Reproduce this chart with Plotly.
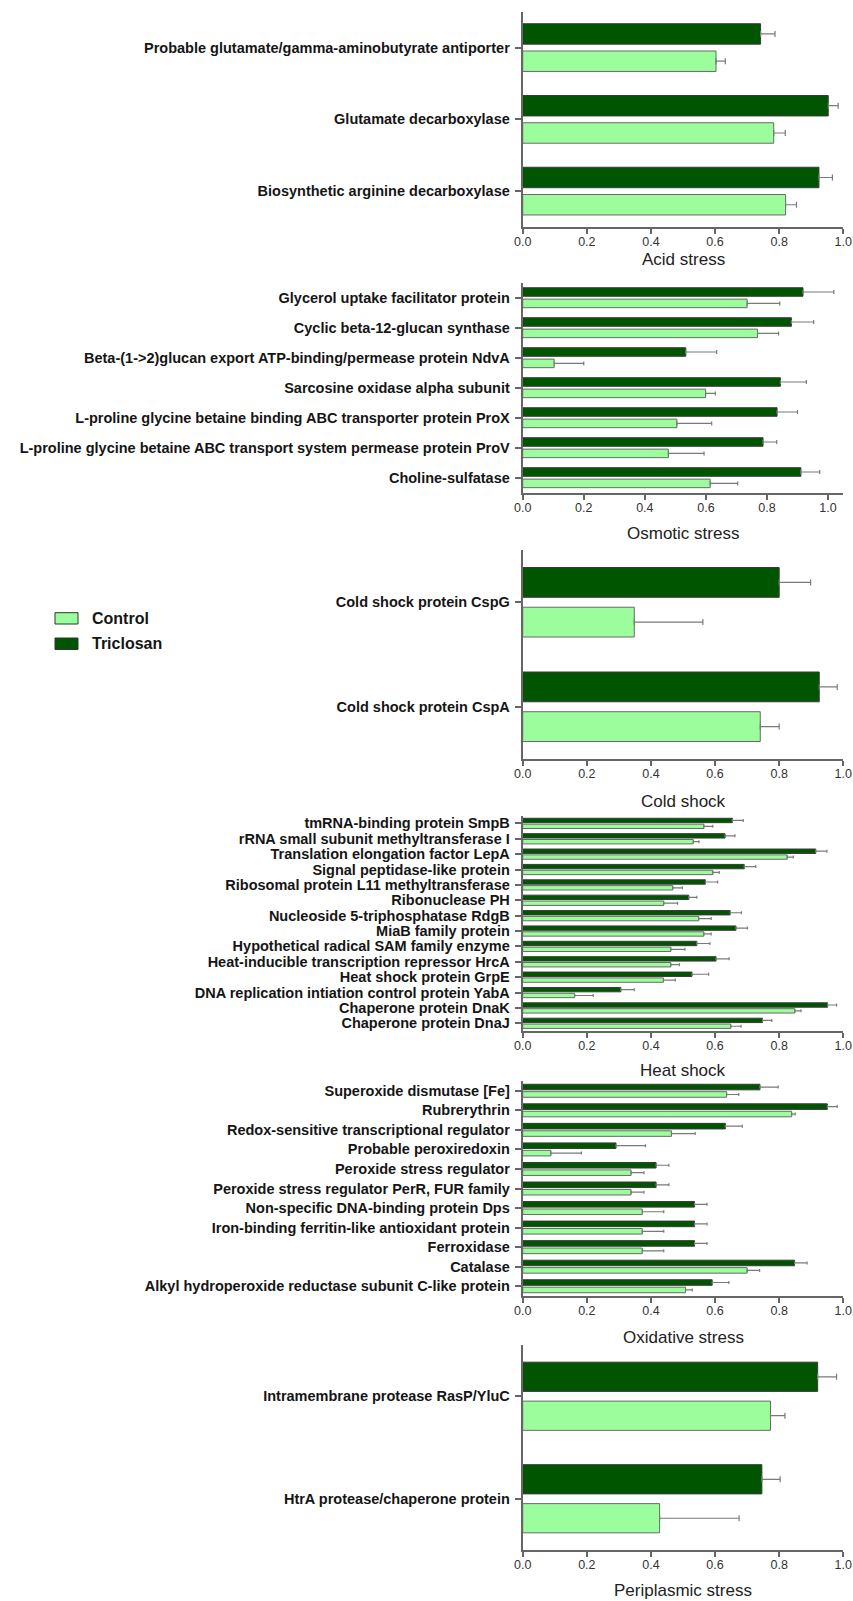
import plotly.graph_objects as go

# ---- data: proteins per stress category (top to bottom), Triclosan and Control ----
acid_labels = [
    "Probable glutamate/gamma-aminobutyrate antiporter",
    "Glutamate decarboxylase",
    "Biosynthetic arginine decarboxylase",
]
acid_triclosan = [0.742, 0.953, 0.924]
acid_triclosan_err = [0.045, 0.031, 0.042]
acid_control = [0.603, 0.783, 0.820]
acid_control_err = [0.029, 0.036, 0.034]

osmotic_labels = [
    "Glycerol uptake facilitator protein",
    "Cyclic beta-12-glucan synthase",
    "Beta-(1->2)glucan export ATP-binding/permease protein NdvA",
    "Sarcosine oxidase alpha subunit",
    "L-proline glycine betaine binding ABC transporter protein ProX",
    "L-proline glycine betaine ABC transport system permease protein ProV",
    "Choline-sulfatase",
]
osmotic_triclosan = [0.918, 0.880, 0.534, 0.844, 0.833, 0.787, 0.911]
osmotic_triclosan_err = [0.101, 0.073, 0.101, 0.085, 0.067, 0.045, 0.062]
osmotic_control = [0.735, 0.769, 0.103, 0.599, 0.505, 0.477, 0.614]
osmotic_control_err = [0.107, 0.069, 0.097, 0.032, 0.114, 0.117, 0.090]

cold_labels = ["Cold shock protein CspG", "Cold shock protein CspA"]
cold_triclosan = [0.800, 0.925]
cold_triclosan_err = [0.098, 0.056]
cold_control = [0.348, 0.741]
cold_control_err = [0.214, 0.059]

heat_labels = [
    "tmRNA-binding protein SmpB",
    "rRNA small subunit methyltransferase I",
    "Translation elongation factor LepA",
    "Signal peptidase-like protein",
    "Ribosomal protein L11 methyltransferase",
    "Ribonuclease PH",
    "Nucleoside 5-triphosphatase RdgB",
    "MiaB family protein",
    "Hypothetical radical SAM family enzyme",
    "Heat-inducible transcription repressor HrcA",
    "Heat shock protein GrpE",
    "DNA replication intiation control protein YabA",
    "Chaperone protein DnaK",
    "Chaperone protein DnaJ",
]
heat_triclosan = [0.654, 0.631, 0.914, 0.691, 0.570, 0.518, 0.647,
                  0.665, 0.543, 0.603, 0.528, 0.306, 0.951, 0.748]
heat_triclosan_err = [0.034, 0.031, 0.035, 0.036, 0.038, 0.025, 0.035,
                      0.036, 0.041, 0.041, 0.052, 0.042, 0.028, 0.029]
heat_control = [0.565, 0.532, 0.825, 0.593, 0.468, 0.440, 0.549,
                0.565, 0.462, 0.462, 0.439, 0.162, 0.849, 0.649]
heat_control_err = [0.028, 0.018, 0.019, 0.020, 0.030, 0.043, 0.039,
                    0.023, 0.044, 0.027, 0.037, 0.058, 0.019, 0.032]

oxidative_labels = [
    "Superoxide dismutase [Fe]",
    "Rubrerythrin",
    "Redox-sensitive transcriptional regulator",
    "Probable peroxiredoxin",
    "Peroxide stress regulator",
    "Peroxide stress regulator PerR, FUR family",
    "Non-specific DNA-binding protein Dps",
    "Iron-binding ferritin-like antioxidant protein",
    "Ferroxidase",
    "Catalase",
    "Alkyl hydroperoxide reductase subunit C-like protein",
]
oxidative_triclosan = [0.740, 0.950, 0.632, 0.291, 0.416, 0.416,
                       0.536, 0.536, 0.536, 0.848, 0.591]
oxidative_triclosan_err = [0.057, 0.031, 0.053, 0.092, 0.040, 0.040,
                           0.039, 0.039, 0.039, 0.039, 0.052]
oxidative_control = [0.636, 0.839, 0.464, 0.088, 0.338, 0.338,
                     0.373, 0.373, 0.373, 0.700, 0.508]
oxidative_control_err = [0.038, 0.011, 0.074, 0.095, 0.040, 0.040,
                         0.067, 0.067, 0.067, 0.039, 0.021]

periplasmic_labels = ["Intramembrane protease RasP/YluC", "HtrA protease/chaperone protein"]
periplasmic_triclosan = [0.920, 0.746]
periplasmic_triclosan_err = [0.059, 0.057]
periplasmic_control = [0.773, 0.427]
periplasmic_control_err = [0.045, 0.248]

x_tick_values = [0.0, 0.2, 0.4, 0.6, 0.8, 1.0]
series_names = ["Control", "Triclosan"]

# ---- page geometry (pixels) ----
W, H = 853, 1601
PLOT_X0, PLOT_X1 = 522.7, 843.3

CONTROL_COLOR = "#9cfd9c"
TRICLOSAN_COLOR = "#005600"
AXIS_COLOR = "#666666"
FONT = "Liberation Sans"

panels = [
    # title, labels, triclosan, t_err, control, c_err, top px, bottom px, x max, title y px, cap
    ("Acid stress", acid_labels, acid_triclosan, acid_triclosan_err,
     acid_control, acid_control_err, 11.7, 227, 1.0, 259, 3),
    ("Osmotic stress", osmotic_labels, osmotic_triclosan, osmotic_triclosan_err,
     osmotic_control, osmotic_control_err, 282.7, 492.7, 1.05, 533, 2),
    ("Cold shock", cold_labels, cold_triclosan, cold_triclosan_err,
     cold_control, cold_control_err, 550, 759, 1.0, 801.7, 3),
    ("Heat shock", heat_labels, heat_triclosan, heat_triclosan_err,
     heat_control, heat_control_err, 815.7, 1031, 1.0, 1070, 1.5),
    ("Oxidative stress", oxidative_labels, oxidative_triclosan, oxidative_triclosan_err,
     oxidative_control, oxidative_control_err, 1081, 1296, 1.0, 1337, 1.5),
    ("Periplasmic stress", periplasmic_labels, periplasmic_triclosan, periplasmic_triclosan_err,
     periplasmic_control, periplasmic_control_err, 1345, 1550, 1.0, 1590, 3),
]


def py(p):
    """pixel row -> paper y"""
    return 1 - p / H


def px(p):
    """pixel column -> paper x"""
    return p / W


fig = go.Figure()
layout = {}
annotations = []

for i, (title, labels, tri, tri_err, ctl, ctl_err, top, bottom, xmax, title_y, cap) in enumerate(panels, start=1):
    xname = "x" if i == 1 else f"x{i}"
    yname = "y" if i == 1 else f"y{i}"
    n = len(labels)

    fig.add_trace(go.Bar(
        y=labels, x=tri, orientation="h", name=series_names[1],
        xaxis=xname, yaxis=yname, showlegend=False,
        marker=dict(color=TRICLOSAN_COLOR, line=dict(color="#3a3a3a", width=1)),
        error_x=dict(type="data", array=tri_err, arrayminus=[0] * n, symmetric=False,
                     color="#7a7a7a", thickness=1.2, width=cap),
    ))
    fig.add_trace(go.Bar(
        y=labels, x=ctl, orientation="h", name=series_names[0],
        xaxis=xname, yaxis=yname, showlegend=False,
        marker=dict(color=CONTROL_COLOR, line=dict(color="#6a6a6a", width=1)),
        error_x=dict(type="data", array=ctl_err, arrayminus=[0] * n, symmetric=False,
                     color="#7a7a7a", thickness=1.2, width=cap),
    ))

    xkey = "xaxis" if i == 1 else f"xaxis{i}"
    ykey = "yaxis" if i == 1 else f"yaxis{i}"
    layout[xkey] = dict(
        domain=[px(PLOT_X0), px(PLOT_X1)], anchor=yname, range=[0, xmax],
        tickmode="array", tickvals=x_tick_values, tickformat=".1f",
        showline=True, linecolor=AXIS_COLOR, linewidth=2,
        ticks="outside", ticklen=5, tickwidth=1.5, tickcolor=AXIS_COLOR,
        showgrid=False, zeroline=False, ticklabelstandoff=-3, automargin=False,
        tickfont=dict(family=FONT, size=12.5, color="#333333"),
    )
    layout[ykey] = dict(
        domain=[py(bottom), py(top)], anchor=xname, type="category",
        range=[n - 0.5, -0.5], autorange=False,
        tickmode="array", tickvals=labels, ticktext=labels,
        showline=True, linecolor=AXIS_COLOR, linewidth=2,
        ticks="outside", ticklen=6, tickwidth=1.5, tickcolor=AXIS_COLOR,
        showgrid=False, zeroline=False, ticklabelstandoff=2, automargin=False,
        tickfont=dict(family=FONT, size=14.5, color="#151515", weight="bold"),
    )
    annotations.append(dict(
        text=title, xref="paper", yref="paper",
        x=px((PLOT_X0 + PLOT_X1) / 2), y=py(title_y),
        xanchor="center", yanchor="middle", showarrow=False,
        font=dict(family=FONT, size=17, color="#222222"),
    ))

# legend drawn as swatches + labels at the left
legend_rows = [(series_names[0], CONTROL_COLOR, 612.7, 624.0),
               (series_names[1], TRICLOSAN_COLOR, 638.0, 649.5)]
shapes = []
for name, color, y0, y1 in legend_rows:
    shapes.append(dict(type="rect", xref="paper", yref="paper",
                       x0=px(55), x1=px(78), y0=py(y1), y1=py(y0),
                       fillcolor=color, line=dict(color="#333333", width=1)))
    annotations.append(dict(
        text=name, xref="paper", yref="paper", x=px(90), y=py((y0 + y1) / 2),
        xanchor="left", yanchor="middle", showarrow=False,
        font=dict(family=FONT, size=16, color="#151515", weight="bold"),
    ))

fig.update_layout(
    width=W, height=H,
    margin=dict(l=0, r=0, t=0, b=0, pad=0, autoexpand=False),
    paper_bgcolor="white", plot_bgcolor="white",
    barmode="group", bargap=0.24, bargroupgap=0.25,
    annotations=annotations, shapes=shapes,
    showlegend=False,
    **layout,
)

fig.write_html("out.html")
